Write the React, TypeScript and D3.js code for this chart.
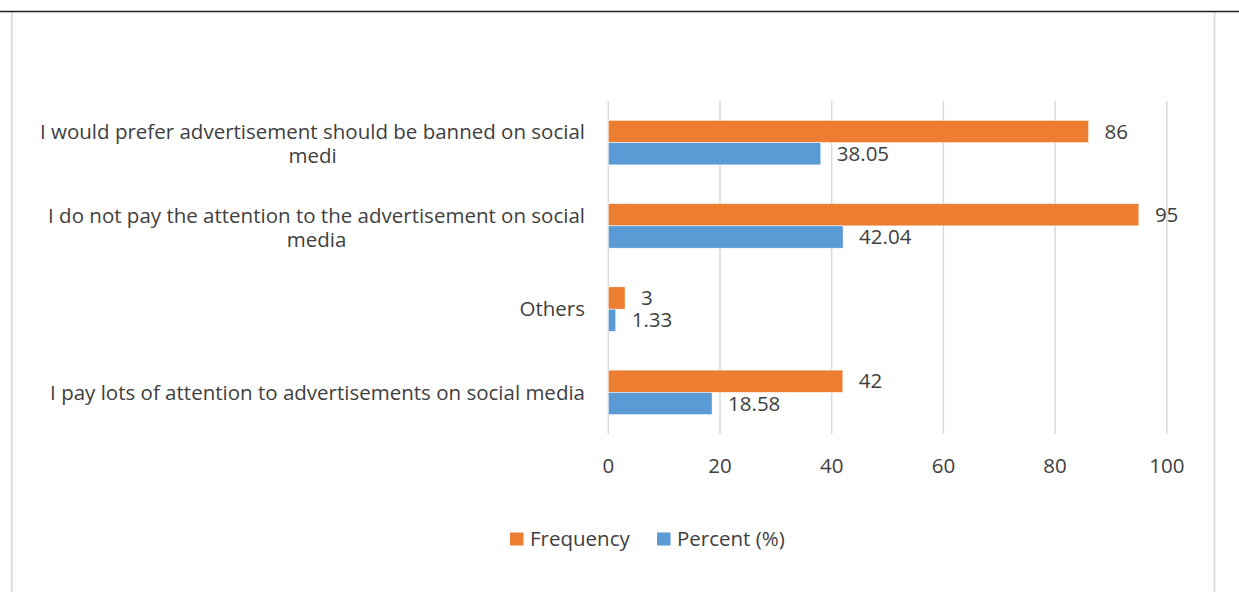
import React, { useEffect, useRef } from "react";
import * as d3 from "d3";

const categories: string[][] = [
  ["I would prefer advertisement should be banned on social", "medi"],
  ["I do not pay the attention to the advertisement on social", "media"],
  ["Others"],
  ["I pay lots of attention to advertisements on social media"],
];
const frequency = [86, 95, 3, 42];
const percent = [38.05, 42.04, 1.33, 18.58];
const seriesNames = ["Frequency", "Percent (%)"];
const xTicks = [0, 20, 40, 60, 80, 100];

const W = 1239;
const H = 592;
const ORANGE = "#ED7D31";
const BLUE = "#5B9BD5";
const TEXT = "#404040";
const GRID = "#D9D9D9";
const FONT = "'Open Sans', sans-serif";
const FS = 20.5;

export default function App() {
  const ref = useRef<SVGSVGElement>(null);

  useEffect(() => {
    const svg = d3.select(ref.current);
    svg.selectAll("*").remove();

    const x = d3.scaleLinear().domain([0, 100]).range([608.3, 1166.8]);
    const y = d3
      .scaleBand<number>()
      .domain(d3.range(categories.length))
      .range([101, 434])
      .paddingInner(0.465)
      .paddingOuter(0.2325);
    const bh = y.bandwidth() / 2;

    // frame
    svg.append("rect").attr("x", 0).attr("y", 0).attr("width", W).attr("height", H).attr("fill", "#fff");
    svg.append("line").attr("x1", 11.8).attr("x2", 11.8).attr("y1", 12).attr("y2", H).attr("stroke", "#DDDDDD").attr("stroke-width", 2);
    svg.append("line").attr("x1", 1214.5).attr("x2", 1214.5).attr("y1", 12).attr("y2", H).attr("stroke", "#DDDDDD").attr("stroke-width", 2);
    svg.append("line").attr("x1", 0).attr("x2", W).attr("y1", 11.5).attr("y2", 11.5).attr("stroke", "#222").attr("stroke-width", 1.3);

    // gridlines
    svg
      .append("g")
      .selectAll("line")
      .data(xTicks)
      .join("line")
      .attr("x1", (d) => x(d))
      .attr("x2", (d) => x(d))
      .attr("y1", 101)
      .attr("y2", 434)
      .attr("stroke", GRID)
      .attr("stroke-width", 1.5);

    // tick labels
    svg
      .append("g")
      .selectAll("text")
      .data(xTicks)
      .join("text")
      .attr("x", (d) => x(d))
      .attr("y", 466)
      .attr("dy", "0.35em")
      .attr("text-anchor", "middle")
      .attr("font-family", FONT)
      .attr("font-size", FS)
      .attr("fill", TEXT)
      .text((d) => String(d));

    // bars
    const series = [frequency, percent];
    const colors = [ORANGE, BLUE];
    series.forEach((vals, si) => {
      const g = svg.append("g");
      g.selectAll("rect")
        .data(vals)
        .join("rect")
        .attr("x", x(0))
        .attr("y", (_, i) => (y(i) as number) + si * bh)
        .attr("width", (d) => x(d) - x(0))
        .attr("height", bh)
        .attr("fill", colors[si])
        .attr("stroke", "#fff")
        .attr("stroke-width", 0.5);
      g.selectAll("text")
        .data(vals)
        .join("text")
        .attr("x", (d) => x(d) + 16)
        .attr("y", (_, i) => (y(i) as number) + si * bh + bh / 2)
        .attr("dy", "0.35em")
        .attr("font-family", FONT)
        .attr("font-size", FS)
        .attr("fill", TEXT)
        .text((d) => String(d));
    });

    // category labels: block right aligned at 585, lines centered in block
    const lineH = 24;
    categories.forEach((lines, i) => {
      const cy = (y(i) as number) + y.bandwidth() / 2;
      const g = svg.append("g");
      const texts = lines.map((ln) =>
        g
          .append("text")
          .attr("font-family", FONT)
          .attr("font-size", FS)
          .attr("fill", TEXT)
          .attr("text-anchor", "middle")
          .text(ln)
      );
      const maxW = d3.max(texts, (t) => (t.node() as SVGTextElement).getComputedTextLength()) || 0;
      const cx = 585 - maxW / 2;
      const top = cy - ((lines.length - 1) * lineH) / 2 + (lines.length > 1 ? 1.5 : 0);
      texts.forEach((t, k) => t.attr("x", cx).attr("y", top + k * lineH).attr("dy", "0.35em"));
    });

    // legend
    const legX = [510, 657];
    seriesNames.forEach((name, i) => {
      svg.append("rect").attr("x", legX[i]).attr("y", 532.5).attr("width", 13.5).attr("height", 13).attr("fill", colors[i]);
      svg
        .append("text")
        .attr("x", legX[i] + 20)
        .attr("y", 539)
        .attr("dy", "0.35em")
        .attr("font-family", FONT)
        .attr("font-size", FS)
        .attr("fill", TEXT)
        .text(name);
    });
  }, []);

  return (
    <div style={{ position: "absolute", left: 0, top: 0 }}>
      <svg ref={ref} width={W} height={H} style={{ display: "block" }} />
    </div>
  );
}
